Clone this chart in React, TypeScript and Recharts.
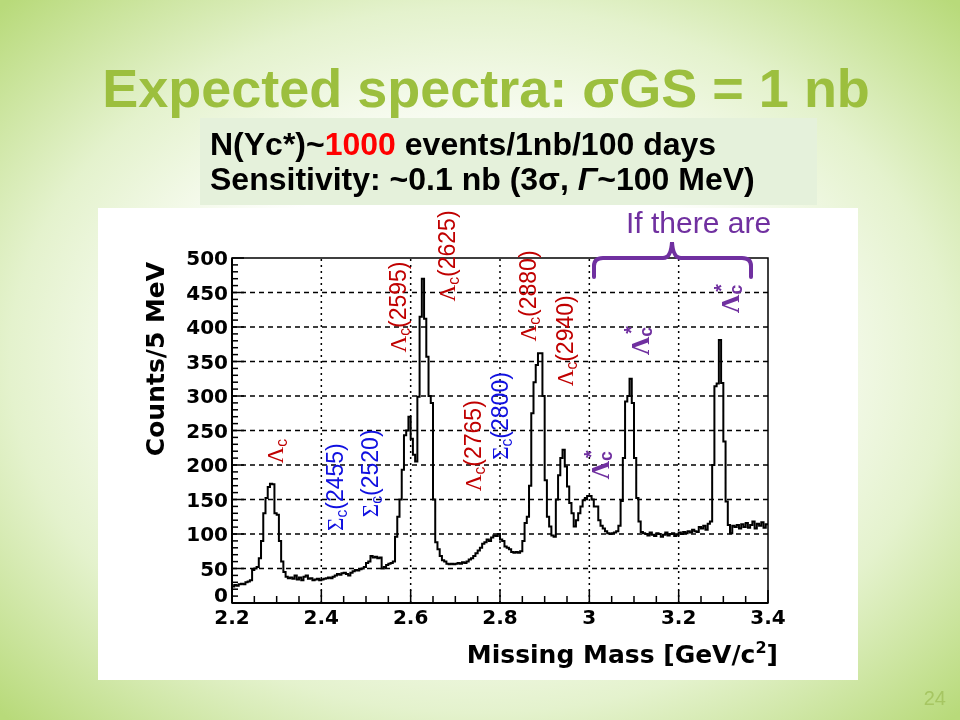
import { LineChart, Line, XAxis, YAxis, ReferenceLine, ReferenceArea, ReferenceDot, Label } from 'recharts'

// counts per 5 MeV bin, lower bin edges 2.200 ... 3.395 GeV, ten bins per row
const counts = [
  24, 26, 25, 27, 28, 27, 30, 31, 33, 48,
  50, 52, 65, 90, 130, 152, 168, 173, 172, 130,
  128, 90, 60, 45, 38, 36, 37, 35, 40, 34,
  37, 33, 38, 40, 35, 36, 33, 34, 35, 33,
  34, 35, 36, 37, 36, 38, 40, 42, 41, 43,
  44, 42, 40, 44, 46, 48, 47, 49, 50, 52,
  58, 60, 68, 66, 67, 65, 66, 50, 52, 55,
  57, 58, 60, 96, 125, 150, 193, 243, 250, 270,
  238, 215, 205, 299, 415, 470, 412, 357, 300, 290,
  150, 88, 78, 68, 62, 60, 57, 56, 57, 56,
  57, 58, 57, 59, 58, 60, 63, 65, 68, 72,
  76, 80, 86, 88, 92, 90, 95, 98, 97, 100,
  92, 90, 82, 80, 78, 74, 73, 74, 73, 75,
  90, 116, 125, 170, 275, 320, 345, 362, 362, 300,
  178, 125, 111, 98, 96, 150, 185, 210, 222, 198,
  169, 145, 130, 111, 120, 130, 140, 149, 152, 155,
  155, 150, 140, 140, 120, 112, 108, 104, 101, 100,
  101, 102, 104, 112, 148, 210, 292, 300, 325, 290,
  210, 152, 118, 103, 101, 100, 98, 102, 99, 97,
  101, 100, 96, 99, 102, 98, 100, 101, 97, 99,
  102, 100, 103, 101, 104, 102, 106, 104, 103, 110,
  108, 112, 106, 115, 118, 200, 314, 318, 381, 319,
  234, 147, 113, 101, 112, 110, 113, 108, 114, 110,
  116, 109, 113, 118, 108, 115, 112, 117, 109, 114,
]
const massMin = 2.2
const massMax = 3.4
const binWidth = 0.005

const majorMass = [2.2, 2.4, 2.6, 2.8, 3.0, 3.2, 3.4]
const majorMassLabels = ['2.2', '2.4', '2.6', '2.8', '3', '3.2', '3.4']
const gridMass = [2.4, 2.6, 2.8, 3.0, 3.2]
const majorCounts = [0, 50, 100, 150, 200, 250, 300, 350, 400, 450, 500]
const gridCounts = [50, 100, 150, 200, 250, 300, 350, 400, 450]

const RED = '#c00000'
const BLUE = '#1010e0'
const PURPLE = '#7030a0'

// peak annotations: label text and where its centre sits (mass, counts)
const peakLabels = [
  { head: 'Λ', sub: 'c', tail: '', star: false, color: RED, mass: 2.296, y: 220 },
  { head: 'Σ', sub: 'c', tail: '(2455)', star: false, color: BLUE, mass: 2.431, y: 168 },
  { head: 'Σ', sub: 'c', tail: '(2520)', star: false, color: BLUE, mass: 2.509, y: 188 },
  { head: 'Λ', sub: 'c', tail: '(2595)', star: false, color: RED, mass: 2.572, y: 429 },
  { head: 'Λ', sub: 'c', tail: '(2625)', star: false, color: RED, mass: 2.681, y: 503 },
  { head: 'Λ', sub: 'c', tail: '(2765)', star: false, color: RED, mass: 2.74, y: 228 },
  { head: 'Σ', sub: 'c', tail: '(2800)', star: false, color: BLUE, mass: 2.8, y: 271 },
  { head: 'Λ', sub: 'c', tail: '(2880)', star: false, color: RED, mass: 2.863, y: 445 },
  { head: 'Λ', sub: 'c', tail: '(2940)', star: false, color: RED, mass: 2.946, y: 380 },
  { head: 'Λ', sub: 'c', tail: '', star: true, color: PURPLE, mass: 3.024, y: 200 },
  { head: 'Λ', sub: 'c', tail: '', star: true, color: PURPLE, mass: 3.113, y: 380 },
  { head: 'Λ', sub: 'c', tail: '', star: true, color: PURPLE, mass: 3.315, y: 441 },
]

const histData = counts.map((c, i) => ({ mass: +(massMin + i * binWidth).toFixed(3), count: c }))
histData.push({ mass: massMax, count: counts[counts.length - 1] })

const massTicks: number[] = []
for (let i = 0; i <= 24; i++) massTicks.push(+(massMin + i * 0.05).toFixed(2))
const countTicks: number[] = []
for (let v = 0; v <= 500; v += 10) countTicks.push(v)

const axisFont = 'DejaVu Sans, Liberation Sans, sans-serif'
const labelSans = 'Liberation Sans, Arial, sans-serif'
const labelSerif = 'Liberation Serif, Times New Roman, serif'

const MassTick = (props: any) => {
  const { x, y, payload } = props
  const idx = majorMass.findIndex((m) => Math.abs(m - payload.value) < 1e-6)
  const major = idx >= 0
  return (
    <g>
      <line x1={x} y1={y} x2={x} y2={y - (major ? 13 : 7)} stroke="#000" strokeWidth={1.5} />
      {major && (
        <text x={x} y={y + 21} textAnchor="middle" fontSize={20} fontWeight="bold" fontFamily={axisFont} fill="#000">
          {majorMassLabels[idx]}
        </text>
      )}
    </g>
  )
}

const CountTick = (props: any) => {
  const { x, y, payload } = props
  const major = majorCounts.includes(payload.value)
  return (
    <g>
      <line x1={x} y1={y} x2={x + (major ? 12 : 6)} y2={y} stroke="#000" strokeWidth={1.5} />
      {major && (
        <text
          x={x - 4}
          y={payload.value === 0 ? y - 8 : y}
          dy="0.36em"
          textAnchor="end"
          fontSize={20}
          fontWeight="bold"
          fontFamily={axisFont}
          fill="#000"
        >
          {payload.value}
        </text>
      )}
    </g>
  )
}

const renderPeakLabel = (p: (typeof peakLabels)[number]) => (props: any) => {
  const { x, y } = props.viewBox
  const size = p.star ? 26 : 23
  return (
    <text
      x={x}
      y={y}
      transform={`rotate(-90 ${x} ${y})`}
      textAnchor="middle"
      dominantBaseline="central"
      fontFamily={labelSans}
      fontWeight={p.star ? 'bold' : 'normal'}
      fontSize={size}
      fill={p.color}
    >
      <tspan fontFamily={labelSerif}>{p.head}</tspan>
      <tspan fontSize={size * 0.68} dy={6}>{p.sub}</tspan>
      {p.star ? (
        <tspan fontSize={size * 0.75} dx={-7} dy={-15}>*</tspan>
      ) : (
        <tspan dy={-6}>{p.tail}</tspan>
      )}
    </text>
  )
}

export default function App() {
  return (
    <div
      style={{
        position: 'fixed',
        left: 0,
        top: 0,
        width: 960,
        height: 720,
        overflow: 'hidden',
        background: 'radial-gradient(ellipse 70% 70% at 50% 50%, #ffffff 0%, #ffffff 40%, #e4f2cd 70%, #b8da7a 100%)',
        fontFamily: 'Liberation Sans, Arial, sans-serif',
      }}
    >
      <div style={{ position: 'absolute', left: 98, top: 208, width: 760, height: 472, background: '#ffffff' }} />
      <div style={{ position: 'absolute', left: 200, top: 118, width: 617, height: 87, background: '#e5f1db' }} />

      <svg width={960} height={720} style={{ position: 'absolute', left: 0, top: 0 }}>
        <text x={486} y={107} textAnchor="middle" fontSize={54} fontWeight="bold" fill="#9cbf3e">
          Expected spectra: σGS = 1 nb
        </text>
        <text x={210} y={155} fontSize={32} fontWeight="bold" fill="#000">
          N(Yc*)~<tspan fill="#ff0000">1000</tspan> events/1nb/100 days
        </text>
        <text x={210} y={190} fontSize={32} fontWeight="bold" fill="#000">
          Sensitivity: ~0.1 nb (3σ, <tspan fontStyle="italic">Γ</tspan>~100 MeV)
        </text>
        <text x={946} y={705} textAnchor="end" fontSize={20} fill="#a6c662">
          24
        </text>
      </svg>

      <div style={{ position: 'absolute', left: 98, top: 210 }}>
        <LineChart width={760} height={470} data={histData} margin={{ top: 48, right: 90, left: 0, bottom: 0 }}>
          <XAxis
            dataKey="mass"
            type="number"
            domain={[massMin, massMax]}
            ticks={massTicks}
            interval={0}
            height={77}
            tickSize={0}
            tickMargin={0}
            tickLine={false}
            tick={MassTick}
            axisLine={{ stroke: '#000', strokeWidth: 2 }}
            allowDataOverflow
          >
            <Label
              content={(props: any) => {
                const vb = props.viewBox
                return (
                  <text
                    x={vb.x + vb.width + 10}
                    y={vb.y + 60}
                    textAnchor="end"
                    fontSize={25}
                    fontWeight="bold"
                    fontFamily={axisFont}
                    fill="#000"
                  >
                    Missing Mass [GeV/c<tspan fontSize={16} dy={-10}>2</tspan>
                    <tspan dy={10}>]</tspan>
                  </text>
                )
              }}
            />
          </XAxis>
          <YAxis
            type="number"
            domain={[0, 500]}
            ticks={countTicks}
            interval={0}
            width={134}
            tickSize={0}
            tickMargin={0}
            tickLine={false}
            tick={CountTick}
            axisLine={{ stroke: '#000', strokeWidth: 2 }}
            allowDataOverflow
          >
            <Label
              content={(props: any) => {
                const vb = props.viewBox
                const cx = vb.x + 57
                const cy = vb.y + 101
                return (
                  <text
                    x={cx}
                    y={cy}
                    transform={`rotate(-90 ${cx} ${cy})`}
                    textAnchor="middle"
                    dominantBaseline="central"
                    fontSize={25}
                    fontWeight="bold"
                    fontFamily={axisFont}
                    fill="#000"
                  >
                    Counts/5 MeV
                  </text>
                )
              }}
            />
          </YAxis>
          {gridCounts.map((v) => (
            <ReferenceLine key={'h' + v} y={v} stroke="#000" strokeWidth={1.5} strokeDasharray="5 4" />
          ))}
          {gridMass.map((m) => (
            <ReferenceLine key={'v' + m} x={m} stroke="#000" strokeWidth={1.5} strokeDasharray="2 4" />
          ))}
          <ReferenceArea x1={massMin} x2={massMax} y1={0} y2={500} fill="none" stroke="#000" strokeWidth={1.5} />
          <Line
            type="stepAfter"
            dataKey="count"
            stroke="#000"
            strokeWidth={2}
            dot={false}
            isAnimationActive={false}
          />
          {peakLabels.map((p, i) => (
            <ReferenceDot
              key={'p' + i}
              x={p.mass}
              y={p.y}
              r={0}
              fill="none"
              stroke="none"
              ifOverflow="visible"
              label={renderPeakLabel(p)}
            />
          ))}
        </LineChart>
      </div>

      <svg width={960} height={720} style={{ position: 'absolute', left: 0, top: 0, pointerEvents: 'none' }}>
        <text x={626} y={233} fontSize={30} fill={PURPLE}>
          If there are
        </text>
        <path
          d="M 594 277 L 594 266 Q 594 258 603 258 L 663 258 Q 671 258 672 242 Q 673 258 681 258 L 742 258 Q 751 258 751 266 L 751 277"
          fill="none"
          stroke={PURPLE}
          strokeWidth={4}
          strokeLinecap="round"
        />
      </svg>
    </div>
  )
}
